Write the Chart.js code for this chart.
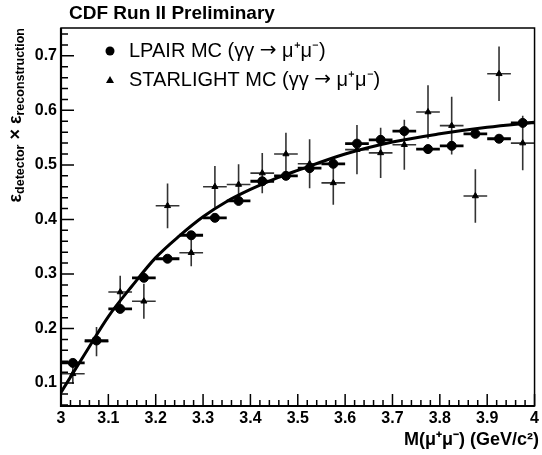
<!DOCTYPE html>
<html>
<head>
<meta charset="utf-8">
<script src="https://cdn.jsdelivr.net/npm/chart.js@4.4.1/dist/chart.umd.min.js"></script>
<style>
  html, body { margin: 0; padding: 0; background: #fff; }
  #wrap { width: 542px; height: 455px; }
</style>
</head>
<body>
<div id="wrap"><canvas id="effChart" width="542" height="455"></canvas></div>
<script>
// bin centres (GeV/c^2), half width of each bin
const massBins = [3.025, 3.075, 3.125, 3.175, 3.225, 3.275, 3.325, 3.375, 3.425, 3.475,
                  3.525, 3.575, 3.625, 3.675, 3.725, 3.775, 3.825, 3.875, 3.925, 3.975];
const binHalfWidth = 0.025;

// LPAIR MC efficiency
const lpairEff = [0.137, 0.178, 0.236, 0.293, 0.328, 0.371, 0.403, 0.434, 0.470, 0.480,
                  0.494, 0.502, 0.539, 0.546, 0.562, 0.529, 0.535, 0.557, 0.548, 0.577];
const lpairErr = [0.006, 0.006, 0.006, 0.006, 0.006, 0.006, 0.006, 0.006, 0.006, 0.006,
                  0.006, 0.006, 0.006, 0.006, 0.006, 0.006, 0.006, 0.006, 0.006, 0.006];

// STARLIGHT MC efficiency
const starEff = [0.117, 0.176, 0.267, 0.250, 0.425, 0.339, 0.460, 0.464, 0.485, 0.520,
                 0.502, 0.467, 0.528, 0.522, 0.537, 0.597, 0.572, 0.443, 0.667, 0.540];
const starErr = [0.018, 0.027, 0.030, 0.032, 0.041, 0.025, 0.038, 0.037, 0.037, 0.039,
                 0.045, 0.040, 0.045, 0.046, 0.046, 0.049, 0.053, 0.049, 0.050, 0.050];

// fitted curve
const fitMass = [3.0, 3.05, 3.1, 3.15, 3.2, 3.25, 3.3, 3.35, 3.4, 3.45, 3.5, 3.6, 3.7, 3.8, 3.9, 4.0];
const fitEff  = [0.083, 0.153, 0.222, 0.278, 0.330, 0.370, 0.405, 0.433, 0.455, 0.474, 0.490,
                 0.520, 0.542, 0.557, 0.569, 0.578];

// axis ticks
const xTicks = [3, 3.1, 3.2, 3.3, 3.4, 3.5, 3.6, 3.7, 3.8, 3.9, 4];
const yTicks = [0.1, 0.2, 0.3, 0.4, 0.5, 0.6, 0.7];

const FONT = '"Liberation Sans", Arial, Helvetica, sans-serif';
const ARROW_FONT = '"DejaVu Sans", sans-serif';

const pts = (xs, ys) => xs.map((x, i) => ({ x: x, y: ys[i] }));

function drawBars(chart, eff, err, color, width) {
    const ctx = chart.ctx;
    const xs = chart.scales.x, ys = chart.scales.y;
    ctx.strokeStyle = color;
    ctx.lineWidth = width;
    massBins.forEach((m, i) => {
        const px = xs.getPixelForValue(m);
        const py = ys.getPixelForValue(eff[i]);
        ctx.beginPath();
        ctx.moveTo(xs.getPixelForValue(m - binHalfWidth), py);
        ctx.lineTo(xs.getPixelForValue(m + binHalfWidth), py);
        ctx.moveTo(px, ys.getPixelForValue(eff[i] - err[i]));
        ctx.lineTo(px, ys.getPixelForValue(eff[i] + err[i]));
        ctx.stroke();
    });
}

// legend line: text with a wider arrow glyph
function legendText(ctx, x, y, before, after, size) {
    ctx.font = size + 'px ' + FONT;
    ctx.fillText(before, x, y);
    x += ctx.measureText(before).width;
    ctx.font = size + 'px ' + ARROW_FONT;
    ctx.fillText('\u2192', x, y);
    x += ctx.measureText('\u2192').width;
    ctx.font = size + 'px ' + FONT;
    ctx.fillText(after, x, y);
}

// error bars, frame, ticks, title, legend
const rootStyle = {
    id: 'rootStyle',
    beforeDatasetsDraw(chart) {
        chart.ctx.save();
        drawBars(chart, starEff, starErr, '#333', 1.6);
        drawBars(chart, lpairEff, lpairErr, '#000', 2.8);
        chart.ctx.restore();
    },
    afterDraw(chart) {
        const ctx = chart.ctx;
        const a = chart.chartArea;
        const xs = chart.scales.x, ys = chart.scales.y;
        ctx.save();

        // frame
        ctx.strokeStyle = '#000';
        ctx.lineWidth = 1.5;
        ctx.strokeRect(a.left, a.top, a.right - a.left, a.bottom - a.top);
        ctx.lineWidth = 2.2;
        ctx.beginPath();
        ctx.moveTo(a.left, a.top);
        ctx.lineTo(a.left, a.bottom);
        ctx.lineTo(a.right, a.bottom);
        ctx.stroke();

        // ticks, pointing inward
        ctx.lineWidth = 1.5;
        ctx.beginPath();
        for (let k = 0; k <= 50; k++) {
            const px = xs.getPixelForValue(3 + k * 0.02);
            const len = (k % 5 === 0) ? 12 : 6;
            ctx.moveTo(px, a.bottom);
            ctx.lineTo(px, a.bottom - len);
        }
        for (let k = 0; k <= 40; k++) {
            const v = 0.06 + k * 0.02;
            if (v > ys.max) break;
            const py = ys.getPixelForValue(v);
            const len = (Math.round(v * 100) % 10 === 0) ? 13 : 7;
            ctx.moveTo(a.left, py);
            ctx.lineTo(a.left + len, py);
        }
        ctx.stroke();

        // title
        ctx.fillStyle = '#000';
        ctx.font = 'bold 19px ' + FONT;
        ctx.textAlign = 'left';
        ctx.textBaseline = 'middle';
        ctx.fillText('CDF Run II Preliminary', 69, 14);

        // x axis title
        ctx.font = 'bold 18px ' + FONT;
        ctx.textAlign = 'right';
        ctx.fillText('M(\u03bc\u207a\u03bc\u207b) (GeV/c\u00b2)', 539, 440);

        // y axis title with subscripts
        const big = 'bold 18px ' + FONT, small = 'bold 12.5px ' + FONT;
        const parts = [['\u03b5', big, 0], ['detector', small, 5], [' \u00d7 ', big, 0],
                       ['\u03b5', big, 0], ['reconstruction', small, 5]];
        let total = 0;
        parts.forEach(p => { ctx.font = p[1]; total += ctx.measureText(p[0]).width; });
        ctx.translate(16, 28 + total);
        ctx.rotate(-Math.PI / 2);
        ctx.textAlign = 'left';
        let cx = 0;
        parts.forEach(p => {
            ctx.font = p[1];
            ctx.fillText(p[0], cx, p[2]);
            cx += ctx.measureText(p[0]).width;
        });
        ctx.setTransform(1, 0, 0, 1, 0, 0);

        // legend
        ctx.fillStyle = '#000';
        ctx.beginPath();
        ctx.arc(110, 51, 4.5, 0, Math.PI * 2);
        ctx.fill();
        ctx.beginPath();
        ctx.moveTo(110, 76);
        ctx.lineTo(114, 83);
        ctx.lineTo(106, 83);
        ctx.closePath();
        ctx.fill();
        ctx.textAlign = 'left';
        ctx.textBaseline = 'middle';
        legendText(ctx, 129, 51, 'LPAIR MC (\u03b3\u03b3 ', ' \u03bc\u207a\u03bc\u207b)', 20);
        legendText(ctx, 129, 80, 'STARLIGHT MC (\u03b3\u03b3 ', ' \u03bc\u207a\u03bc\u207b)', 20);
        ctx.restore();
    }
};

const effChart = new Chart(document.getElementById('effChart').getContext('2d'), {
    type: 'scatter',
    data: {
        datasets: [
            {
                label: 'Fit',
                type: 'line',
                data: pts(fitMass, fitEff),
                borderColor: '#000',
                borderWidth: 3,
                pointRadius: 0,
                fill: false,
                tension: 0.4,
                cubicInterpolationMode: 'monotone'
            },
            {
                label: 'STARLIGHT MC',
                data: pts(massBins, starEff),
                pointStyle: 'triangle',
                pointRadius: 3.5,
                backgroundColor: '#000',
                borderColor: '#000',
                borderWidth: 1
            },
            {
                label: 'LPAIR MC',
                data: pts(massBins, lpairEff),
                pointStyle: 'circle',
                pointRadius: 4.5,
                backgroundColor: '#000',
                borderColor: '#000',
                borderWidth: 1
            }
        ]
    },
    options: {
        responsive: false,
        animation: false,
        layout: { padding: { top: 28, right: 6, left: 0, bottom: 0 } },
        plugins: {
            legend: { display: false },
            tooltip: { enabled: false }
        },
        scales: {
            x: {
                type: 'linear',
                min: 3,
                max: 4,
                grid: { display: false, drawTicks: false },
                border: { display: false },
                afterBuildTicks: s => { s.ticks = xTicks.map(v => ({ value: v })); },
                afterFit: s => { s.height = 49; },
                ticks: {
                    autoSkip: false,
                    maxRotation: 0,
                    padding: 3,
                    color: '#000',
                    font: { family: FONT, size: 16, weight: 'bold' },
                    callback: v => String(Math.round(v * 10) / 10)
                }
            },
            y: {
                min: 0.058,
                max: 0.751,
                grid: { display: false, drawTicks: false },
                border: { display: false },
                afterBuildTicks: s => { s.ticks = yTicks.map(v => ({ value: v })); },
                afterFit: s => { s.width = 61; },
                ticks: {
                    padding: 4,
                    color: '#000',
                    font: { family: FONT, size: 16, weight: 'bold' },
                    callback: v => (Math.round(v * 10) / 10).toFixed(1)
                }
            }
        }
    },
    plugins: [rootStyle]
});
</script>
</body>
</html>
